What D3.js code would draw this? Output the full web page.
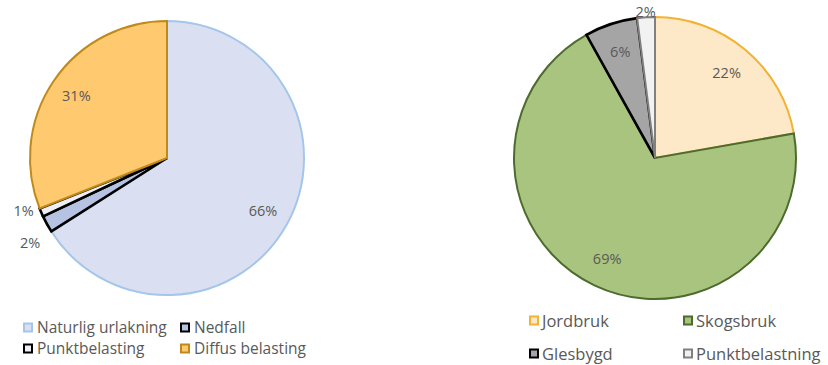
<!DOCTYPE html>
<html>
<head>
<meta charset="utf-8">
<script src="https://cdn.jsdelivr.net/npm/d3@7"></script>
<style>
  html, body { margin: 0; padding: 0; background: #fff; }
  svg { display: block; }
  text { font-family: "Open Sans", "Liberation Sans", sans-serif; fill: #595959; }
</style>
</head>
<body>
<svg id="chart" width="828" height="365"></svg>
<script>
// Left pie: sources of load
const leftCategories = ["Naturlig urlakning", "Nedfall", "Punktbelasting", "Diffus belasting"];
const leftValues = [66, 2, 1, 31];
const leftFills = ["#dae0f1", "#b5c2e2", "#eef0f5", "#fec96f"];
const leftStrokes = ["#a4c6ea", "#000000", "#000000", "#c08a1a"];

// Right pie: diffuse load by land use
const rightCategories = ["Jordbruk", "Skogsbruk", "Glesbygd", "Punktbelastning"];
const rightValues = [22, 69, 6, 2];
const rightFills = ["#fde9c8", "#a9c47f", "#a5a5a5", "#f2f2f2"];
const rightStrokes = ["#f2b233", "#4e6b2e", "#000000", "#808080"];

const svg = d3.select("#chart");

function drawPie(cfg) {
  const data = cfg.categories.map((c, i) => ({ name: c, value: cfg.values[i], i }));
  const pie = d3.pie().value(d => d.value).sort(null);
  const arcs = pie(data);
  const arc = d3.arc().innerRadius(0).outerRadius(cfg.r);
  const g = svg.append("g").attr("transform", `translate(${cfg.cx},${cfg.cy})`);

  g.selectAll("path.slice").data(arcs).enter().append("path")
    .attr("class", "slice")
    .attr("d", arc)
    .attr("fill", d => cfg.fills[d.data.i])
    .attr("stroke", d => cfg.strokes[d.data.i])
    .attr("stroke-width", d => cfg.strokes[d.data.i] === "#000000" ? 2.6 : 2)
    .attr("stroke-linejoin", "miter");

  // Label positions: inside for large slices, outside for thin ones
  const labels = arcs.map(d => {
    const outside = d.data.value < 3;
    const f = outside ? cfg.outer : cfg.inner;
    const la = d3.arc().innerRadius(cfg.r * f).outerRadius(cfg.r * f);
    const [x, y] = la.centroid(d);
    return { d, x, y, outside };
  });
  // Spread neighbouring outside labels apart so they don't collide
  const outs = labels.filter(l => l.outside).sort((a, b) => a.y - b.y);
  for (let k = 1; k < outs.length; k++) {
    const a = outs[k - 1], b = outs[k];
    const gap = b.y - a.y;
    if (gap < cfg.minGap) {
      const push = (cfg.minGap - gap) / 2;
      a.y -= push; b.y += push;
    }
  }

  g.selectAll("text.lbl").data(labels).enter().append("text")
    .attr("class", "lbl")
    .attr("x", l => l.x).attr("y", l => l.y)
    .attr("text-anchor", "middle")
    .attr("dy", "0.35em")
    .attr("font-size", cfg.labelSize)
    .text(l => d3.format(".0f")(l.d.data.value) + "%");

  const lg = svg.append("g");
  const items = lg.selectAll("g.item").data(data).enter().append("g")
    .attr("class", "item")
    .attr("transform", d => `translate(${cfg.legendX[d.i % 2]},${cfg.legendY[Math.floor(d.i / 2)]})`);
  items.append("rect")
    .attr("x", 1).attr("y", -4.5).attr("width", 8).attr("height", 8)
    .attr("fill", d => cfg.fills[d.i])
    .attr("stroke", d => cfg.strokes[d.i])
    .attr("stroke-width", 2);
  items.append("text")
    .attr("x", cfg.legendPad).attr("dy", "0.35em")
    .attr("font-size", cfg.legendSize)
    .text(d => d.name);
}

drawPie({
  categories: leftCategories, values: leftValues, fills: leftFills, strokes: leftStrokes,
  cx: 167, cy: 158, r: 137, inner: 0.8, outer: 1.14, minGap: 32, labelSize: 14.5,
  legendX: [23, 180], legendY: [328, 349], legendSize: 15.5, legendPad: 14
});

drawPie({
  categories: rightCategories, values: rightValues, fills: rightFills, strokes: rightStrokes,
  cx: 655, cy: 158, r: 141, inner: 0.79, outer: 1.04, minGap: 32, labelSize: 14.5,
  legendX: [529, 683], legendY: [321, 354], legendSize: 16.5, legendPad: 13
});
</script>
</body>
</html>
